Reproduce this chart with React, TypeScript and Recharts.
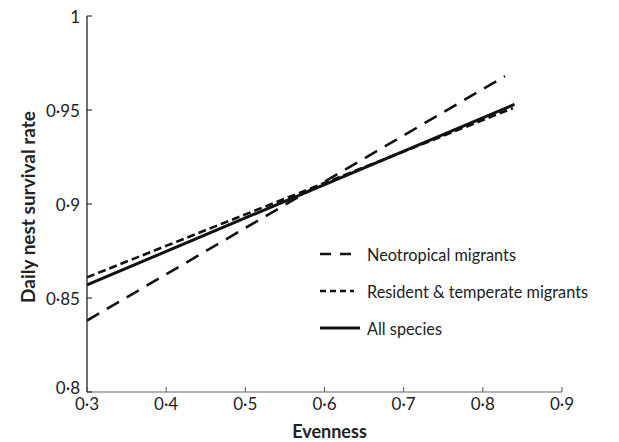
import React from 'react';
import { LineChart, Line, XAxis, YAxis, Legend } from 'recharts';

const xTicks = [0.3, 0.4, 0.5, 0.6, 0.7, 0.8, 0.9];
const xTickLabels = ['0·3', '0·4', '0·5', '0·6', '0·7', '0·8', '0·9'];
const yTicks = [0.8, 0.85, 0.9, 0.95, 1];
const yTickLabels = ['0·8', '0·85', '0·9', '0·95', '1'];

const neotropical = [
  { x: 0.3, y: 0.838 },
  { x: 0.828, y: 0.968 },
];
const resident = [
  { x: 0.3, y: 0.861 },
  { x: 0.838, y: 0.951 },
];
const allSpecies = [
  { x: 0.3, y: 0.857 },
  { x: 0.84, y: 0.953 },
];

const seriesNames = ['Neotropical migrants', 'Resident & temperate migrants', 'All species'];
const seriesDash = ['14 9', '8 4', ''];
const seriesWidth = [2.6, 2.6, 3];
const legendDash = ['11 9', '6 4', ''];

const FONT = 'Lato, "Open Sans", sans-serif';
const TXT = '#222';

const XTick = (props: any) => {
  const { x, y, index } = props;
  return (
    <g>
      <line x1={x} y1={y} x2={x} y2={y - 5} stroke="#555" strokeWidth={1} />
      <text x={x} y={y + 11} textAnchor="middle" dominantBaseline="central" fontSize={17} fill={TXT} fontFamily={FONT}>
        {xTickLabels[index]}
      </text>
    </g>
  );
};

const YTick = (props: any) => {
  const { x, y, index } = props;
  const dy = index === 0 ? -5 : 0;
  return (
    <g>
      <line x1={x} y1={y} x2={x + 5} y2={y} stroke="#111" strokeWidth={1} />
      <text x={x - 7} y={y + dy} textAnchor="end" dominantBaseline="central" fontSize={17} fill={TXT} fontFamily={FONT}>
        {yTickLabels[index]}
      </text>
    </g>
  );
};

const YTitle = (props: any) => {
  const vb = props.viewBox;
  const cx = vb.x + 27;
  const cy = vb.y + vb.height / 2 + 3;
  return (
    <text x={cx} y={cy} transform={`rotate(-90 ${cx} ${cy})`} textAnchor="middle" dominantBaseline="central" fontSize={19} fontWeight={700} fill={TXT} fontFamily={FONT}>
      Daily nest survival rate
    </text>
  );
};

const XTitle = (props: any) => {
  const vb = props.viewBox;
  return (
    <text x={vb.x + vb.width / 2 + 5} y={vb.y + 46} textAnchor="middle" fontSize={18} fontWeight={700} fill={TXT} fontFamily={FONT}>
      Evenness
    </text>
  );
};

const LegendContent = () => (
  <svg width={280} height={110} style={{ display: 'block' }}>
    {seriesNames.map((name, i) => {
      const cy = 19 + i * 37;
      return (
        <g key={name}>
          <line x1={2} y1={cy} x2={i === 2 ? 42 : 36} y2={cy} stroke="#111" strokeWidth={seriesWidth[i]} strokeDasharray={legendDash[i]} />
          <text x={49} y={cy} dominantBaseline="central" fontSize={16.3} fill={TXT} fontFamily={FONT}>
            {name}
          </text>
        </g>
      );
    })}
  </svg>
);

export default function App() {
  return (
    <div style={{ position: 'absolute', left: 0, top: 0, width: 619, height: 442, background: '#fff' }}>
      <LineChart width={619} height={442} margin={{ top: 16, right: 57, bottom: 0, left: 0 }}>
        <XAxis
          type="number"
          dataKey="x"
          domain={[0.3, 0.9]}
          ticks={xTicks}
          interval={0}
          height={50}
          tickSize={0}
          tickMargin={0}
          tickLine={false}
          tick={<XTick />}
          axisLine={{ stroke: '#666', strokeWidth: 1.2 }}
          allowDataOverflow
          label={<XTitle />}
        />
        <YAxis
          type="number"
          dataKey="y"
          domain={[0.8, 1]}
          ticks={yTicks}
          interval={0}
          width={87}
          tickSize={0}
          tickMargin={0}
          tickLine={false}
          tick={<YTick />}
          axisLine={{ stroke: '#111', strokeWidth: 1.2 }}
          allowDataOverflow
          label={<YTitle />}
        />
        <Legend
          layout="horizontal"
          verticalAlign="middle"
          align="center"
          content={<LegendContent />}
          wrapperStyle={{ position: 'absolute', left: 318, top: 235, width: 280, height: 110 }}
        />
        <Line data={neotropical} dataKey="y" name={seriesNames[0]} stroke="#111" strokeWidth={seriesWidth[0]} strokeDasharray={seriesDash[0]} dot={false} isAnimationActive={false} type="linear" />
        <Line data={resident} dataKey="y" name={seriesNames[1]} stroke="#111" strokeWidth={seriesWidth[1]} strokeDasharray={seriesDash[1]} dot={false} isAnimationActive={false} type="linear" />
        <Line data={allSpecies} dataKey="y" name={seriesNames[2]} stroke="#111" strokeWidth={seriesWidth[2]} dot={false} isAnimationActive={false} type="linear" />
      </LineChart>
    </div>
  );
}
